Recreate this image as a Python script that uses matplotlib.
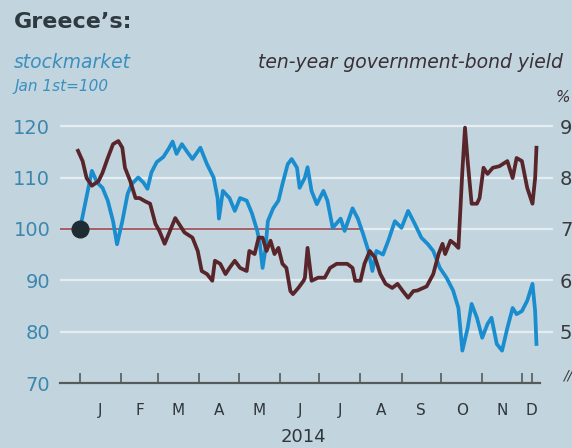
import numpy as np
import matplotlib
matplotlib.use("Agg")
import matplotlib.pyplot as plt

# Greek stockmarket (Jan 1st=100), days since Jan 1st 2014
stock_day = [0, 9, 13, 17, 21, 25, 28, 32, 36, 39, 44, 48, 51, 54, 58, 63, 67, 70, 73, 77,
             81, 85, 91, 96, 101, 104, 105, 108, 113, 117, 121, 126, 130, 134, 136, 138, 140,
             142, 146, 150, 153, 157, 160, 164, 166, 170, 172, 175, 179, 184, 187, 191, 197,
             200, 206, 210, 214, 218, 221, 224, 229, 233, 238, 243, 248, 253, 258, 263, 267,
             272, 277, 282, 286, 289, 293, 296, 300, 304, 308, 311, 315, 319, 323, 327, 330,
             334, 338, 342, 344, 345]
stock = [100, 111.3, 109, 108, 105.5, 101.5, 97, 101.5, 106.8, 108.7, 110, 109, 107.8, 111,
         113, 114, 115.6, 117, 114.6, 116.5, 115, 113.6, 115.8, 112.6, 110, 106, 102, 107.4,
         106, 103.5, 106, 105.5, 103, 99.6, 97, 92.4, 95.7, 101.5, 104, 105.5, 108.7, 112.6,
         113.6, 111.9, 108, 110, 112, 107.4, 104.8, 107.4, 105.5, 100.2, 102, 99.6, 104, 102,
         99, 95.7, 91.8, 95.7, 95, 97.7, 101.5, 100.2, 103.5, 101, 98.3, 97, 95.7, 92.4, 90.5,
         88, 84.6, 76.3, 80.7, 85.4, 82.7, 78.8, 81.5, 82.7, 77.6, 76.3, 80.7, 84.6, 83.4, 84,
         86, 89.3, 84, 77.6]

# ten-year government-bond yield, %
bond_day = [-1.5, 2, 5, 9, 14, 17, 21, 25, 29, 32, 34, 38, 42, 45, 49, 53, 57, 60, 64, 68, 72,
            76, 79, 85, 89, 92, 96, 100, 102, 106, 110, 113, 117, 121, 126, 128, 132, 135, 138,
            141, 144, 147, 150, 153, 156, 159, 161, 165, 169, 170, 172, 175, 180, 185, 189, 194,
            202, 206, 208, 212, 215, 219, 223, 227, 231, 236, 240, 244, 248, 252, 255, 262, 267,
            271, 274, 276, 280, 283, 286, 289, 291, 293, 296, 300, 302, 305, 308, 312, 317, 323,
            327, 330, 334, 338, 342, 344, 345]
bond = [8.52, 8.32, 7.99, 7.84, 7.93, 8.09, 8.38, 8.65, 8.71, 8.58, 8.19, 7.93, 7.60, 7.60,
        7.54, 7.49, 7.10, 6.96, 6.71, 6.96, 7.21, 7.05, 6.93, 6.83, 6.57, 6.18, 6.12, 5.99,
        6.38, 6.32, 6.12, 6.24, 6.38, 6.24, 6.18, 6.57, 6.51, 6.83, 6.83, 6.57, 6.77, 6.51,
        6.63, 6.32, 6.24, 5.79, 5.73, 5.85, 5.99, 6.05, 6.63, 5.99, 6.05, 6.05, 6.24, 6.32,
        6.32, 6.24, 5.99, 5.99, 6.32, 6.57, 6.44, 6.12, 5.93, 5.85, 5.93, 5.79, 5.66, 5.79,
        5.80, 5.88, 6.12, 6.51, 6.71, 6.51, 6.77, 6.71, 6.63, 8.13, 8.97, 8.32, 7.49, 7.49,
        7.60, 8.19, 8.07, 8.19, 8.22, 8.32, 7.99, 8.38, 8.32, 7.80, 7.49, 7.99, 8.58]

month_start = [0, 31, 59, 90, 120, 151, 181, 212, 243, 273, 304, 334]
month_lab = ["J", "F", "M", "A", "M", "J", "J", "A", "S", "O", "N", "D"]
axis_end = 348
last_tick = 342
left_ticks = [70, 80, 90, 100, 110, 120]
right_ticks = [5, 6, 7, 8, 9]

bg = "#c2d5df"
blue = "#1a8dcf"
brown = "#58262a"
txt = "#2e3a40"
fam = "DejaVu Sans"

fig = plt.figure(figsize=(5.72, 4.48), dpi=100, facecolor=bg)
W, H = 572, 448
ax = fig.add_axes([60 / W, 1 - 383 / H, 493 / W, (383 - 121) / H])
ax.set_facecolor(bg)
x0, x1 = -15.1, 357.5
ax.set_xlim(x0, x1)
ax.set_ylim(70, 121)
for s in ax.spines.values():
    s.set_visible(False)

# gridlines, 100 line only runs part way as in print
for v in left_ticks[1:]:
    ax.axhline(v, color="#e6edf0", lw=1.6, zorder=1)
ax.plot([x0, 212], [100, 100], color="#a0545a", lw=1.3, zorder=2)
axis_frac = (axis_end - x0) / (x1 - x0)
ax.axhline(70, xmin=0, xmax=axis_frac, color="#555a5c", lw=1.6, zorder=3, clip_on=False)

ax.set_yticks(left_ticks)
ax.set_yticklabels([str(v) for v in left_ticks])
ax.tick_params(axis="y", length=0, pad=7, labelsize=14, labelcolor="#3d86ad")

ax.set_xticks(month_start + [last_tick])
ax.set_xticklabels([])
ax.tick_params(axis="x", direction="in", length=7, width=1.2, color="#555a5c")

mids = [(a + b) / 2 for a, b in zip(month_start, month_start[1:] + [axis_end])]
for m, lab in zip(mids, month_lab):
    ax.annotate(lab, (m, 0), xycoords=("data", "axes fraction"), xytext=(0, -27),
                textcoords="offset pixels", ha="center", va="center", fontsize=11,
                color="#30363a")
ax.annotate("2014", (mids[5] + 3, 0), xycoords=("data", "axes fraction"), xytext=(0, -54),
            textcoords="offset pixels", ha="center", va="center", fontsize=13,
            color="#30363a")

ax.plot(stock_day, stock, color=blue, lw=2.7, zorder=4, solid_joinstyle="round")

ax2 = ax.twinx()
ax2.set_ylim(4, 9.1)
for s in ax2.spines.values():
    s.set_visible(False)
ax2.set_yticks(right_ticks)
ax2.set_yticklabels([str(v) for v in right_ticks])
ax2.tick_params(axis="y", length=0, pad=5, labelsize=14, labelcolor="#3a3a3c")
ax2.plot(bond_day, bond, color=brown, lw=2.7, zorder=4, solid_joinstyle="round")
ax2.plot([stock_day[0]], [stock[0]], "o", transform=ax.transData, color="#1f2c33",
         ms=12, zorder=6, clip_on=False)
ax2.text(1.02, 0.03, "//", transform=ax2.transAxes, fontsize=10, color="#3a3a3c",
         style="italic", va="center", ha="left")

fig.text(14 / W, 1 - 22 / H, "Greece\u2019s:", fontsize=16, fontweight="bold", color=txt,
         va="center", ha="left")
fig.text(14 / W, 1 - 62 / H, "stockmarket", fontsize=13.5, style="italic", color="#3a8fbf",
         va="center", ha="left")
fig.text(14 / W, 1 - 86 / H, "Jan 1st=100", fontsize=11, style="italic", color="#3a8fbf",
         va="center", ha="left")
fig.text(563 / W, 1 - 62 / H, "ten-year government-bond yield", fontsize=13.5, style="italic",
         color="#3a3035", va="center", ha="right")
fig.text(556 / W, 1 - 98 / H, "%", fontsize=11, style="italic", color="#3a3035",
         va="center", ha="left")

fig.savefig("out.png", dpi=100, facecolor=bg)
